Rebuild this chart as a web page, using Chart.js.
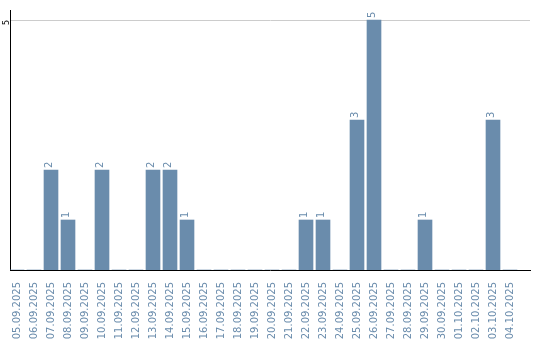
<!DOCTYPE html>
<html>
<head>
<meta charset="utf-8">
<script src="https://cdn.jsdelivr.net/npm/chart.js@4"></script>
<style>
  html, body { margin: 0; padding: 0; background: #fff; }
  #wrap { width: 540px; height: 340px; }
</style>
</head>
<body>
<div id="wrap"><canvas id="c" width="540" height="340"></canvas></div>
<script>
const categories = ["05.09.2025","06.09.2025","07.09.2025","08.09.2025","09.09.2025","10.09.2025","11.09.2025","12.09.2025","13.09.2025","14.09.2025","15.09.2025","16.09.2025","17.09.2025","18.09.2025","19.09.2025","20.09.2025","21.09.2025","22.09.2025","23.09.2025","24.09.2025","25.09.2025","26.09.2025","27.09.2025","28.09.2025","29.09.2025","30.09.2025","01.10.2025","02.10.2025","03.10.2025","04.10.2025"];
const values = [0,0,2,1,0,2,0,0,2,2,1,0,0,0,0,0,0,1,1,0,3,5,0,0,1,0,0,0,3,0];
const yTickValues = [5];

const barColor = 'rgb(106,140,172)';
const labelColor = 'rgb(106,140,172)';
const fontFamily = '"DejaVu Sans", Verdana, sans-serif';

const valueLabels = {
  id: 'valueLabels',
  afterDatasetsDraw(chart) {
    const ctx = chart.ctx;
    const meta = chart.getDatasetMeta(0);
    ctx.save();
    ctx.fillStyle = labelColor;
    ctx.font = '10px ' + fontFamily;
    ctx.textAlign = 'left';
    ctx.textBaseline = 'middle';
    meta.data.forEach((el, i) => {
      const v = values[i];
      if (!v) return;
      ctx.save();
      ctx.translate(el.x - 1.5, el.y - 2);
      ctx.rotate(-Math.PI / 2);
      ctx.fillText(String(v), 0, 0);
      ctx.restore();
    });
    ctx.restore();
  }
};

const step = 17;
const xMin = -7 / step;
const xMax = xMin + 520 / step;

new Chart(document.getElementById('c'), {
  type: 'bar',
  data: {
    datasets: [{
      data: values.map((v, i) => ({ x: i, y: v })),
      backgroundColor: barColor,
      borderWidth: 0,
      barThickness: 14
    }]
  },
  options: {
    responsive: false,
    animation: false,
    layout: { padding: { top: 10, right: 10, left: 0, bottom: 0 } },
    plugins: { legend: { display: false }, tooltip: { enabled: false } },
    scales: {
      x: {
        type: 'linear',
        offset: false,
        bounds: 'data',
        min: xMin,
        max: xMax,
        grid: { display: false },
        border: { display: true, color: '#000', width: 1 },
        afterBuildTicks(scale) { scale.ticks = categories.map((c, i) => ({ value: i })); },
        afterFit(scale) { scale.height = 70; scale.paddingLeft = 0; scale.paddingRight = 0; },
        ticks: {
          autoSkip: false,
          minRotation: 90,
          maxRotation: 90,
          padding: 4,
          color: labelColor,
          font: { family: fontFamily, size: 10 },
          callback: (v) => categories[v]
        }
      },
      y: {
        min: 0,
        max: 5.2,
        grid: { color: '#cccccc', drawTicks: false, lineWidth: 1 },
        border: { display: true, color: '#000', width: 1 },
        afterBuildTicks(scale) { scale.ticks = yTickValues.map(v => ({ value: v })); },
        afterFit(scale) { scale.width = 10; scale.paddingTop = 0; scale.paddingBottom = 0; },
        ticks: {
          minRotation: 90,
          maxRotation: 90,
          padding: 3,
          color: '#000',
          font: { family: fontFamily, size: 8 }
        }
      }
    }
  },
  plugins: [valueLabels]
});
</script>
</body>
</html>
